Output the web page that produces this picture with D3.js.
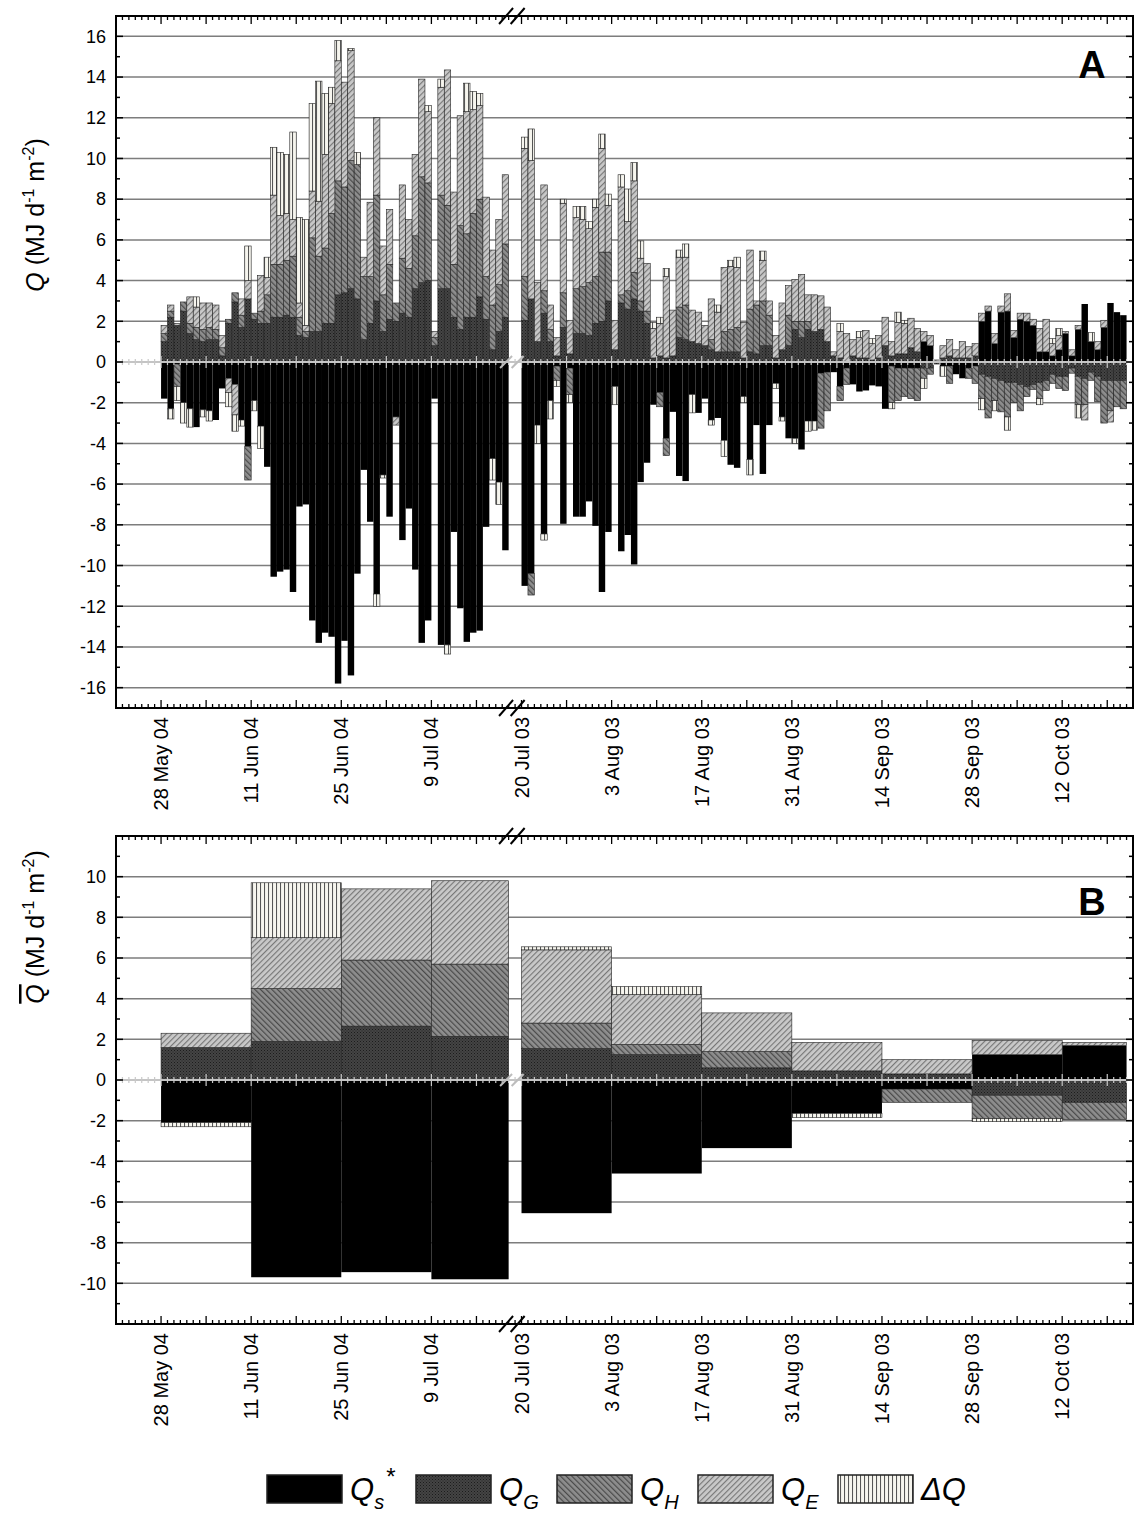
<!DOCTYPE html>
<html>
<head>
<meta charset="utf-8">
<script src="https://cdn.jsdelivr.net/npm/d3@7.9.0/dist/d3.min.js"></script>
<style>
  body { margin: 0; background: #fff; }
  text { font-family: "Liberation Sans", Arial, sans-serif; fill: #000; }
</style>
</head>
<body>
<svg id="chart" width="1135" height="1513"></svg>
<script>
// series order = stacking order away from zero
const keys = ['Qs', 'QG', 'QH', 'QE', 'dQ'];

// daily values 2004, starting 28 May 04 (day 7 on the axis)
const start04 = 7;
const qs04 = [-1.8,-2.3,-0.1,-2.0,-2.3,-3.2,-2.35,-2.4,-2.85,-1.3,-0.8,-1.1,-2.85,-4.15,-1.9,-3.15,-5.15,-10.55,-10.3,-10.2,-11.3,-7.1,-7.0,-12.7,-13.8,-13.3,-13.5,-15.8,-13.7,-15.4,-10.4,-5.3,-7.85,-11.4,-5.55,-7.6,-2.7,-8.75,-7.2,-10.2,-13.8,-12.7,-1.8,-13.9,-13.9,-8.35,-12.1,-13.75,-13.3,-13.2,-8.1,-4.75,-5.9,-9.25];
const qg04 = [1.0,2.2,1.8,2.5,1.4,1.1,1.0,1.1,1.1,0.3,1.9,2.95,1.7,3.1,2.1,1.9,1.9,2.2,2.2,2.3,2.2,1.3,1.2,1.5,1.5,1.9,1.9,3.3,3.4,3.6,3.1,1.1,1.9,3.0,1.5,2.1,2.0,2.4,2.2,3.6,3.9,4.0,0.8,3.6,3.6,2.2,1.6,2.2,2.2,3.2,2.1,0.6,1.5,2.2];
const qh04 = [0.4,0.3,-1.1,0.45,0.5,0.6,0.6,0.6,0.5,0.4,0.2,0.45,0.6,-1.65,0.3,0.6,1.4,2.6,2.6,2.7,3.0,0.9,0.3,4.6,3.7,3.7,5.4,5.6,5.2,6.3,6.6,3.1,2.3,5.2,1.8,2.7,0.9,2.7,2.4,2.6,5.2,4.8,0.4,4.6,4.1,2.6,5.1,4.1,5.1,4.8,2.1,2.2,2.3,3.6];
const qe04 = [0.4,0.3,0.1,0,1.3,1.0,1.3,1.2,1.2,0.6,-0.7,-1.5,0.8,0.9,0,1.75,0.85,3.4,2.4,2.3,1.8,0.7,0.3,2.3,2.7,4.6,5.4,5.9,5.15,5.4,0,0.95,3.65,3.8,2.4,2.7,-0.4,3.6,2.4,4.0,4.8,3.5,0.3,5.3,6.65,3.55,5.4,6.0,5.1,4.6,3.9,2.7,3.2,3.4];
const dq04 = [0,-0.5,-0.7,-1.0,-0.9,0.5,-0.35,-0.5,0,0,-0.7,-0.8,-0.3,1.7,-0.5,-1.1,1.0,2.35,3.1,2.9,4.3,4.2,5.2,4.3,5.9,3.0,0.8,1.0,0,0.1,0.6,0,0,-0.6,-0.15,0,0,0,0,0,0,0.3,0,0.4,-0.45,0,0,1.4,0.9,0.6,0,-1.05,-1.1,0];

// daily values 2003, starting 20 Jul 03 (day 63 on the axis)
const start03 = 63;
const qs03 = [-11.0,-10.4,-3.1,-8.45,-1.9,-0.2,-7.95,-0.3,-7.6,-7.6,-6.85,-8.05,-11.3,-8.35,-1.2,-9.3,-8.5,-9.95,-5.9,-4.95,-2.1,-1.5,-3.75,-2.45,-5.6,-5.85,-1.6,-2.5,-1.8,-2.85,-2.75,-3.85,-5.05,-5.2,-1.7,-4.8,-3.1,-5.5,-3.1,-1.05,-2.7,-3.75,-3.75,-4.3,-2.9,-2.9,-0.55,-0.5,-0.5,-1.2,-0.3,-1.1,-1.45,-1.4,-1.15,-1.2,-2.3,-0.2,-0.3,-0.3,-0.3,-0.3,1.0,0.8,0,-0.2,-0.2,-0.6,-0.8,-0.3,-0.2,2.0,2.5,0.9,2.45,2.5,1.2,2.1,2.0,1.8,0.5,0.5,0.3,0.6,1.4,0.3,1.6,2.85,1.0,0.6,1.7,2.9,2.45,2.3];
const qg03 = [2.05,3.1,1.0,2.4,1.0,0.3,1.7,0.4,1.4,1.4,1.3,1.9,2.0,3.0,0.6,2.9,2.6,3.1,2.5,1.9,0.2,0.3,0.2,0.3,1.2,1.1,1.0,0.9,0.8,0.6,0.5,0.5,0.5,0.5,0.2,0.5,0.4,0.8,0.8,0.2,0.6,0.8,1.6,1.2,1.6,1.5,1.6,1.0,0.3,0.2,0,0.3,0.2,0.2,0.1,0.2,0.8,0.3,0.4,0.4,0.7,0.5,-0.3,-0.3,-0.1,0.2,0.3,0.2,0.2,0.2,0.3,-0.6,-0.7,-0.8,-0.9,-1.0,-1.0,-1.1,-1.2,-1.1,-1.0,-0.9,-0.6,-0.7,-0.7,-0.3,-0.7,-0.8,-0.5,-0.7,-0.9,-0.9,-0.9,-0.9];
const qh03 = [2.15,-1.05,0,1.1,0.6,-0.7,1.7,-1.3,2.2,2.3,2.6,2.3,3.4,2.4,0,0.4,0.9,1.3,0.5,0.6,0,-0.7,-0.85,0,1.5,1.7,0,0,0,0.5,0,1.0,1.1,1.2,0,2.1,2.4,2.2,1.5,0,0,1.5,0.4,0.8,0.4,0,-2.7,-1.9,0,-0.7,-0.8,0,0,0,0,0,0,-1.8,-1.6,-1.4,-1.5,-1.6,-0.5,-0.3,0,0,-0.85,0,0,-0.5,-0.85,-1.2,-2.05,-1.1,-1.55,-1.7,-1.0,-1.3,-0.5,-0.25,-0.8,-0.5,-0.45,-0.6,-0.7,-0.25,-1.4,-1.3,-0.4,-1.25,-2.1,-1.5,-1.3,-1.4];
const qe03 = [6.3,6.8,2.9,5.2,1.2,0.9,4.4,1.65,3.5,3.3,2.65,3.4,5.1,2.3,1.45,5.3,3.4,4.5,2.1,2.35,1.45,1.6,4.0,2.25,2.45,2.35,1.55,1.55,1.0,2.0,1.95,3.15,3.1,2.95,1.75,2.9,0.2,2.0,0.7,1.1,2.3,1.45,2.05,2.3,1.3,1.8,1.65,1.7,0.2,1.3,1.4,0.8,1.0,1.35,0.8,1.1,1.4,0.7,1.55,1.5,1.45,1.15,0.5,0.5,0.1,0.6,0.8,0.4,0.8,0.55,0.6,0.4,0.25,0.5,0.3,0.85,0.35,0.3,0.4,0.3,1.15,1.6,0.6,0.7,0.1,0.3,0.2,-0.75,0,0.4,0.35,-0.55,0,0];
const dq03 = [0.55,1.55,-0.9,-0.3,-0.9,-0.3,0.2,-0.4,0.55,0.65,0.35,0.4,0.7,0.55,-0.9,0.6,1.6,0.9,0.85,0,0.3,0.3,0.4,0,0.35,0.65,-0.9,0,0,-0.25,0.35,-0.8,0.3,0.5,-0.3,-0.75,0,0.45,0,-0.25,-0.2,0,-0.25,0,-0.5,-0.45,0,0,0,0.4,0,0,0.3,0,0.25,0,0,-0.3,0.5,0.15,0,0,-0.5,0,0,-0.5,0,0,0,0,0,-0.55,0,-0.5,0,-0.65,0,0,0,0,-0.3,0,0.25,0.35,0,0,-0.65,0,0.45,0,0,0,0,0];

// two-week means (panel B)
const periodStart = [7, 21, 35, 49, 63, 77, 91, 105, 119, 133, 147];
const periodEnd   = [21, 35, 49, 61, 77, 91, 105, 119, 133, 147, 157];
const qsB = [-2.1, -9.7, -9.45, -9.8, -6.55, -4.6, -3.35, -1.65, -0.45, 1.25, 1.7];
const qgB = [1.6, 1.9, 2.65, 2.15, 1.55, 1.25, 0.6, 0.45, 0.3, -0.75, -1.1];
const qhB = [0, 2.6, 3.25, 3.55, 1.25, 0.5, 0.8, 0, -0.65, -1.15, -0.85];
const qeB = [0.7, 2.5, 3.5, 4.1, 3.6, 2.45, 1.9, 1.4, 0.7, 0.7, 0.15];
const dqB = [-0.2, 2.7, 0, 0, 0.15, 0.4, 0, -0.2, 0, -0.15, 0];

// axis labels
const tickDays = [7, 21, 35, 49, 63, 77, 91, 105, 119, 133, 147];
const tickLabels = ['28 May 04', '11 Jun 04', '25 Jun 04', '9 Jul 04', '20 Jul 03', '3 Aug 03',
                    '17 Aug 03', '31 Aug 03', '14 Sep 03', '28 Sep 03', '12 Oct 03'];
const legendNames = [['Q', 's', '*'], ['Q', 'G', ''], ['Q', 'H', ''], ['Q', 'E', ''], ['\u0394Q', '', '']];

const svg = d3.select('#chart');
const x = d3.scaleLinear().domain([0, 158]).range([116, 1133]);

// fill patterns
const defs = svg.append('defs');
const qg = defs.append('pattern').attr('id', 'pQG').attr('patternUnits', 'userSpaceOnUse')
  .attr('width', 3).attr('height', 3);
qg.append('rect').attr('width', 3).attr('height', 3).attr('fill', '#444');
qg.append('rect').attr('width', 1).attr('height', 1).attr('fill', '#1c1c1c');
qg.append('rect').attr('x', 1.5).attr('y', 1.5).attr('width', 1).attr('height', 1).attr('fill', '#222');

function hatch(id, base, ink, angle, step, w) {
  const p = defs.append('pattern').attr('id', id).attr('patternUnits', 'userSpaceOnUse')
    .attr('width', step).attr('height', step).attr('patternTransform', `rotate(${angle})`);
  p.append('rect').attr('width', step).attr('height', step).attr('fill', base);
  p.append('line').attr('x1', 0.5).attr('y1', 0).attr('x2', 0.5).attr('y2', step)
    .attr('stroke', ink).attr('stroke-width', w);
}
hatch('pQH', '#8e8e8e', '#4a4a4a', -45, 4, 1.4);
hatch('pQE', '#c9c9c9', '#777', 45, 4, 1.3);
hatch('pDQ', '#f6f5ee', '#555', 0, 4, 1.1);

const fills = { Qs: '#000', QG: 'url(#pQG)', QH: 'url(#pQH)', QE: 'url(#pQE)', dQ: 'url(#pDQ)' };

function makeRows(start, qs, qgv, qhv, qev, dqv) {
  return qs.map((v, i) => ({ d0: start + i, d1: start + i + 1,
    Qs: v, QG: qgv[i], QH: qhv[i], QE: qev[i], dQ: dqv[i] }));
}
const rowsA = makeRows(start04, qs04, qg04, qh04, qe04, dq04)
  .concat(makeRows(start03, qs03, qg03, qh03, qe03, dq03));
const rowsB = periodStart.map((s, i) => ({ d0: s, d1: periodEnd[i],
  Qs: qsB[i], QG: qgB[i], QH: qhB[i], QE: qeB[i], dQ: dqB[i] }));

const stack = d3.stack().keys(keys).offset(d3.stackOffsetDiverging);

function drawPanel(rows, y, yMax, gridMax, letter, letterY) {
  const g = svg.append('g');
  const [x0, x1] = x.range();
  const [yb, yt] = y.range();

  // grid
  g.append('g').selectAll('line')
    .data(d3.range(-gridMax, gridMax + 1, 2).filter(v => v !== 0))
    .join('line')
    .attr('x1', x0).attr('x2', x1)
    .attr('y1', d => y(d)).attr('y2', d => y(d))
    .attr('stroke', '#7d7d7d').attr('stroke-width', 1.5);

  // stacked bars
  const series = stack(rows);
  g.append('g').selectAll('g')
    .data(series)
    .join('g')
    .attr('fill', s => fills[s.key])
    .attr('stroke', s => s.key === 'Qs' ? 'none' : '#222')
    .attr('stroke-width', 0.6)
    .selectAll('rect')
    .data(s => s.filter(d => Math.abs(d[1] - d[0]) > 1e-9))
    .join('rect')
    .attr('x', d => x(d.data.d0))
    .attr('width', d => x(d.data.d1) - x(d.data.d0))
    .attr('y', d => y(Math.max(d[0], d[1])))
    .attr('height', d => Math.abs(y(d[0]) - y(d[1])));

  // zero line with light ticks
  const zg = g.append('g').attr('transform', `translate(0,${y(0)})`);
  zg.append('line').attr('x1', x0).attr('x2', x1).attr('stroke', '#c4c4c4').attr('stroke-width', 2);
  zg.selectAll('line.zt')
    .data(d3.range(0, 159))
    .join('line').attr('class', 'zt')
    .attr('x1', d => x(d)).attr('x2', d => x(d))
    .attr('y1', d => d % 7 === 0 ? -6 : -3).attr('y2', d => d % 7 === 0 ? 6 : 3)
    .attr('stroke', '#c8c8c8').attr('stroke-width', 1.2);

  // frame
  g.append('rect').attr('x', x0).attr('y', yt).attr('width', x1 - x0).attr('height', yb - yt)
    .attr('fill', 'none').attr('stroke', '#000').attr('stroke-width', 2);

  // x ticks top/bottom, inward
  const days = d3.range(0, 159);
  [yb, yt].forEach((yy, k) => {
    const dir = k === 0 ? -1 : 1;
    g.append('g').selectAll('line').data(days).join('line')
      .attr('x1', d => x(d)).attr('x2', d => x(d))
      .attr('y1', yy).attr('y2', d => yy + dir * (d % 7 === 0 ? 8 : 4))
      .attr('stroke', '#000').attr('stroke-width', 1.3);
  });

  // y ticks left (labelled) and right
  const yvals = d3.range(-yMax, yMax + 1);
  [x0, x1].forEach((xx, k) => {
    const dir = k === 0 ? 1 : -1;
    g.append('g').selectAll('line').data(yvals).join('line')
      .attr('y1', d => y(d)).attr('y2', d => y(d))
      .attr('x1', xx).attr('x2', d => xx + dir * (d % 2 === 0 ? 7 : 4))
      .attr('stroke', '#000').attr('stroke-width', 1.5);
  });
  g.append('g').selectAll('text')
    .data(d3.range(-gridMax, gridMax + 1, 2))
    .join('text')
    .attr('x', x0 - 10).attr('y', d => y(d)).attr('dy', '0.35em')
    .attr('text-anchor', 'end').style('font-size', '18px')
    .text(d => d);

  // axis break marks
  const bx = [x(60.6), x(62.4)];
  [yt, yb].forEach(yy => {
    bx.forEach(cx => {
      g.append('line').attr('x1', cx - 7).attr('y1', yy + 8).attr('x2', cx + 7).attr('y2', yy - 8)
        .attr('stroke', '#000').attr('stroke-width', 2);
    });
  });
  bx.forEach(cx => {
    g.append('line').attr('x1', cx - 6).attr('y1', y(0) + 6).attr('x2', cx + 6).attr('y2', y(0) - 6)
      .attr('stroke', '#bdbdbd').attr('stroke-width', 2);
  });

  // rotated date labels
  g.append('g').selectAll('text')
    .data(tickDays)
    .join('text')
    .attr('transform', d => `translate(${x(d) + 7},${yb + 9}) rotate(-90)`)
    .attr('text-anchor', 'end').style('font-size', '20px')
    .text((d, i) => tickLabels[i]);

  // panel letter
  g.append('text').attr('x', 1092).attr('y', letterY).attr('text-anchor', 'middle')
    .style('font-size', '38px').style('font-weight', 'bold').text(letter);
  return g;
}

function yTitle(cx, cy, bar) {
  const t = svg.append('text')
    .attr('transform', `translate(${cx},${cy}) rotate(-90)`)
    .attr('text-anchor', 'middle').style('font-size', '25px');
  t.append('tspan').style('font-style', 'italic')
    .style('text-decoration', bar ? 'overline' : null).text('Q');
  t.append('tspan').text(' (MJ d');
  t.append('tspan').attr('dy', -10).style('font-size', '16px').text('-1');
  t.append('tspan').attr('dy', 10).text(' m');
  t.append('tspan').attr('dy', -10).style('font-size', '16px').text('-2');
  t.append('tspan').attr('dy', 10).text(')');
}

const yA = d3.scaleLinear().domain([-17, 17]).range([708, 16]);
const yB = d3.scaleLinear().domain([-12, 12]).range([1324, 836]);
drawPanel(rowsA, yA, 17, 16, 'A', 78);
drawPanel(rowsB, yB, 12, 10, 'B', 915);
yTitle(44, 215, false);
yTitle(44, 927, true);

// legend
const legendX = [267, 416, 557, 698, 838];
const lg = svg.append('g');
keys.forEach((k, i) => {
  lg.append('rect').attr('x', legendX[i]).attr('y', 1475).attr('width', 75).attr('height', 28)
    .attr('fill', fills[k]).attr('stroke', '#222').attr('stroke-width', 1.5);
  const [main, sub, sup] = legendNames[i];
  const t = lg.append('text').attr('x', legendX[i] + 83).attr('y', 1500)
    .style('font-size', '31px').style('font-style', 'italic');
  t.append('tspan').text(main);
  if (sub) t.append('tspan').attr('dy', 9).style('font-size', '20px').text(sub);
  if (sup) t.append('tspan').attr('dy', -24).attr('dx', 2).style('font-size', '24px')
    .style('font-style', 'normal').text(sup);
});
</script>
</body>
</html>
